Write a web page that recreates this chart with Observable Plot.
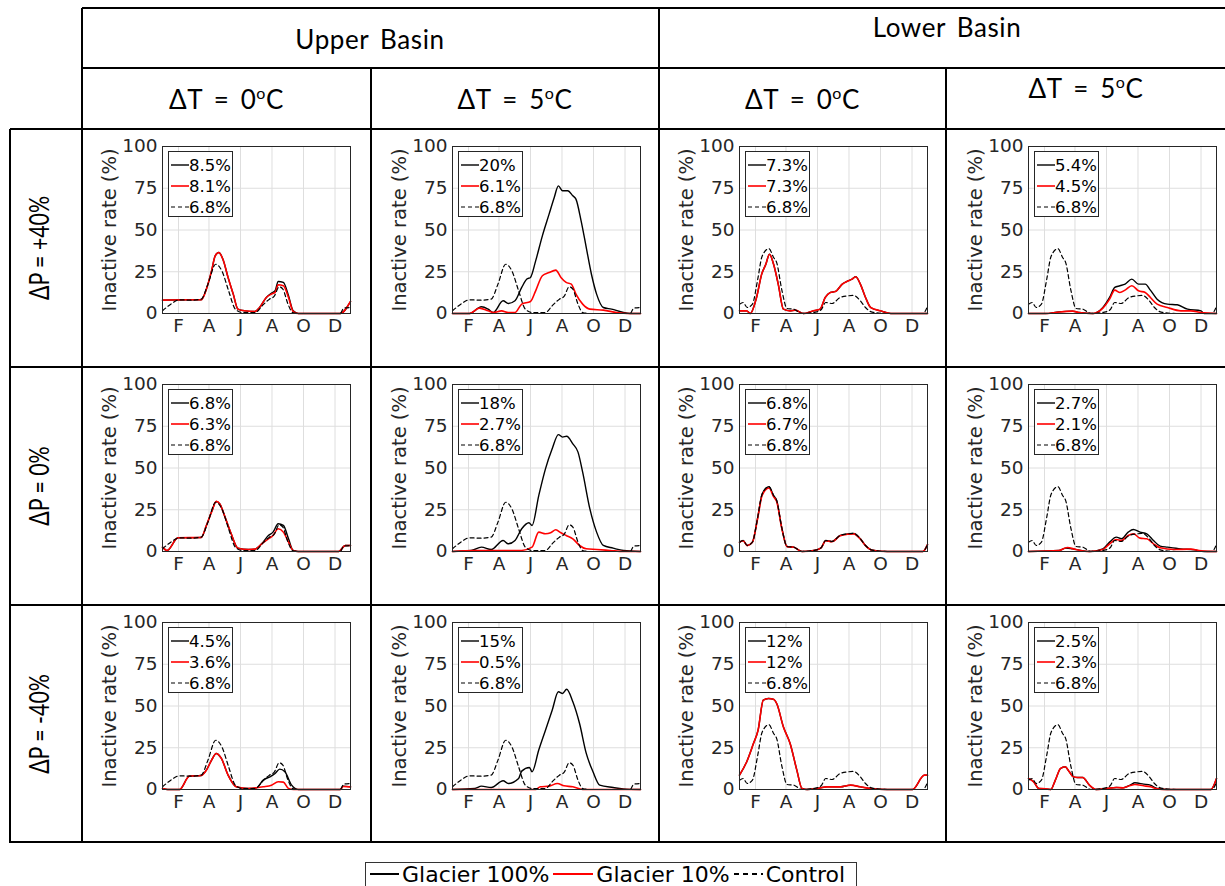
<!DOCTYPE html>
<html><head><meta charset="utf-8">
<script src="https://cdn.jsdelivr.net/npm/d3@7"></script>
<script src="https://cdn.jsdelivr.net/npm/@observablehq/plot@0.6"></script>
<style>
body{margin:0;background:#fff;}
#root{position:relative;width:1225px;height:886px;overflow:hidden;background:#fff;font-family:"DejaVu Sans",sans-serif;}
.hl{position:absolute;height:2px;background:#000;}
.vl{position:absolute;width:2px;background:#000;}
.hdr{position:absolute;font-family:Lato,sans-serif;font-size:26px;letter-spacing:0.6px;word-spacing:4px;color:#000;transform:translate(-50%,-50%);white-space:nowrap;}
.hdr sup{font-size:16px;vertical-align:10px;line-height:0;}
.rowlab{position:absolute;font-family:Lato,sans-serif;font-size:26px;line-height:26px;color:#000;transform:translate(-50%,-50%) rotate(-90deg) scaleX(0.82);white-space:nowrap;}
.panel{position:absolute;}
.leg{position:absolute;border:1px solid #262626;background:#fff;width:65px;height:66px;font-size:16.5px;color:#000;box-sizing:border-box;}
.leg .row{position:absolute;left:1px;height:20px;display:flex;align-items:center;}
.leg svg{display:block;}
#blegend{position:absolute;left:365px;top:862px;width:492px;height:30px;border:1px solid #333;box-sizing:border-box;display:flex;align-items:center;font-size:22px;color:#000;white-space:nowrap;padding-left:3px;padding-bottom:6px;}
#blegend svg{display:block;}
</style></head>
<body><div id="root"></div>
<script>
// ---------- DATA ----------
const monthTicks = [32, 91, 152, 213, 274, 335];
const monthLabels = ["F", "A", "J", "A", "O", "D"];
const yTicks = [0, 25, 50, 75, 100];
const yLabel = "Inactive rate (%)";
const basins = ["Upper Basin", "Lower Basin"];
const dTLabels = ["0", "5", "0", "5"];
const dPLabels = ["ΔP = +40%", "ΔP = 0%", "ΔP = -40%"];
const seriesNames = ["Glacier 100%", "Glacier 10%", "Control"];

const legendVals = [
  ["8.5%", "8.1%", "6.8%"], ["20%", "6.1%", "6.8%"], ["7.3%", "7.3%", "6.8%"], ["5.4%", "4.5%", "6.8%"],
  ["6.8%", "6.3%", "6.8%"], ["18%", "2.7%", "6.8%"], ["6.8%", "6.7%", "6.8%"], ["2.7%", "2.1%", "6.8%"],
  ["4.5%", "3.6%", "6.8%"], ["15%", "0.5%", "6.8%"], ["12%", "12%", "6.8%"], ["2.5%", "2.3%", "6.8%"]
];

// [day of year, inactive rate %]
const upperControl = [[1,1.6],[17,5.6],[34,8.2],[57,8],[76,8.6],[89,17.6],[104,29.5],[116,25.5],[129,13.6],[142,2.6],[155,0.6],[181,0.6],[194,4.6],[208,8.6],[217,10.2],[227,16],[234,14.6],[244,5.6],[253,0.6],[267,0],[345,0],[352,3.2],[365,3.6]];
const lowerControl = [[1,5.6],[8,6.6],[16,3.6],[26,5.6],[36,20],[45,34.5],[58,38.8],[67,33.5],[73,30.5],[83,14],[93,3],[106,2.6],[122,0],[148,0.8],[159,2.2],[168,6.6],[180,6],[196,9.6],[212,10.6],[222,10.8],[235,7.6],[245,3.6],[258,0.8],[287,0],[356,0],[365,4.2]];

const ub0p40_g100 = [[1,8],[50,8.2],[76,8.2],[86,14.6],[96,25.5],[103,34.5],[110,36.5],[118,32.5],[128,21.5],[138,11.6],[147,2.6],[160,1.6],[180,1.2],[189,3.6],[202,9.6],[212,12.2],[219,13.6],[225,19.2],[235,18.6],[245,10.6],[254,1.6],[264,0],[345,0],[365,7.2]];
const ub0p40_g10 = [[1,8],[50,8.2],[76,8.2],[86,14.6],[96,25.5],[103,34.5],[110,36.5],[118,32.5],[128,21.5],[138,11.6],[147,2.6],[160,1.6],[180,1.2],[189,3.6],[202,9.6],[212,11.6],[219,12.6],[225,17.2],[235,16.6],[245,9.6],[254,1.2],[264,0],[345,0],[365,7.2]];
const ub5p40_g100 = [[1,0],[34,0],[57,4],[70,2.6],[80,0.6],[99,7.6],[109,6],[122,7.6],[135,15.6],[145,20.6],[152,21.6],[162,31.5],[175,46.5],[188,59.5],[198,69.5],[206,76.4],[214,73.5],[224,73.5],[234,70.5],[240,68.5],[250,55.5],[260,39.5],[270,23.5],[280,11.6],[293,3.6],[309,2.6],[332,0.6],[345,0],[365,0]];
const ub5p40_g10 = [[1,0],[34,0],[53,3.2],[70,1.6],[80,0.6],[96,1.6],[109,0.6],[122,0.6],[135,5.6],[152,7.2],[162,13.6],[175,22.6],[188,24.5],[201,26],[211,21.6],[221,18.6],[231,17.6],[240,11.6],[253,5.6],[267,2.6],[293,2],[319,0.6],[339,0],[365,0]];
const lb0p40_g100 = [[1,1.6],[15,1.6],[22,0],[34,9.6],[44,23.6],[52,29.5],[59,35.5],[67,29.5],[76,17.6],[86,2.6],[99,1.6],[109,2],[125,0],[144,1.6],[157,2.6],[167,9.6],[177,12.6],[187,13.2],[200,17.6],[209,19.2],[219,20.6],[226,22],[235,17.6],[245,9.6],[255,3.6],[274,1.6],[294,0],[365,0]];
const lb0p40_g10 = lb0p40_g100.map(d => d.slice());
const lb5p40_g100 = [[1,0],[34,0],[60,1],[86,1.4],[99,0.6],[126,0],[145,3.6],[158,9.6],[168,15.6],[178,16.6],[188,17.6],[201,20.6],[214,17.6],[227,17.6],[237,14],[250,8.6],[270,5.6],[289,5.2],[309,2.6],[335,1.6],[341,0],[365,0]];
const lb5p40_g10 = [[1,0],[34,0],[53,0.6],[86,1.4],[99,0.6],[126,0],[145,3.2],[158,8.6],[168,14],[178,12.6],[188,14],[201,16.6],[214,13.6],[227,12.6],[237,9.6],[250,5.6],[270,3.6],[296,1.6],[315,1.6],[335,0.6],[365,0]];

const ub0p0_g100 = [[1,2.6],[10,0.6],[31,8.2],[76,8.4],[86,15.6],[97,24.5],[105,30],[112,28.5],[121,21.5],[134,10.6],[147,2],[167,1.2],[180,1.4],[193,4.6],[206,9.6],[215,11.6],[225,16.6],[235,15.6],[245,7.6],[254,0.6],[264,0],[342,0],[355,3.6],[365,3.6]];
const ub0p0_g10 = [[1,2.6],[10,0.6],[31,8.2],[76,8.4],[86,15.6],[97,24.5],[105,30],[112,28.5],[121,21.5],[134,10.6],[147,2],[167,1.2],[180,1.4],[193,4.6],[206,7.6],[215,9.6],[225,13.6],[235,11.6],[245,5.6],[254,0.6],[264,0],[342,0],[355,3.6],[365,3.6]];
const ub5p0_g100 = [[1,0],[37,0.6],[57,2.6],[76,1.2],[99,6.6],[109,4.6],[122,6.6],[135,13.6],[149,17.2],[155,15.6],[168,33.5],[181,49.5],[194,61.5],[206,70],[214,68.5],[222,69],[234,64.5],[244,59.5],[253,47.5],[267,25.5],[280,11.6],[293,3.6],[312,2],[332,0.6],[365,0]];
const ub5p0_g10 = [[1,0],[44,0.6],[70,0.6],[135,0.6],[155,2.6],[168,11.6],[181,10.6],[191,11.2],[201,13],[211,11.2],[221,9.6],[234,7.6],[247,3.6],[260,1.6],[280,1.2],[306,0.6],[332,0],[365,0]];
const lb0p0_g100 = lowerControl.map(d => d.slice());
const lb0p0_g10 = lowerControl.map(d => [d[0], d[1] * 0.98]);
const lb5p0_g100 = [[1,0],[60,0.6],[73,2],[86,1.6],[119,0],[145,1.6],[158,5.6],[171,8.6],[181,7.6],[194,11.6],[204,13.2],[217,11.6],[230,10.6],[243,6.6],[256,3.2],[270,2.6],[296,1.6],[322,1],[341,0],[365,0]];
const lb5p0_g10 = [[1,0],[60,0.6],[76,2.4],[93,1.2],[119,0],[145,1.2],[158,4.6],[171,7.2],[181,6.6],[194,9.6],[204,10.6],[217,8],[230,7.6],[243,4.6],[256,2.2],[283,1.2],[315,1.4],[335,0.4],[365,0]];

const ub0m40_g100 = [[1,0.6],[11,0],[34,0],[53,8],[76,8.4],[86,11.6],[96,17.6],[105,21.6],[115,18.6],[128,8.6],[144,1.6],[167,0.6],[183,1],[196,5.6],[209,7.6],[219,9.6],[228,12.2],[238,10.6],[251,2.6],[264,0],[345,0],[351,2],[365,1.6]];
const ub0m40_g10 = [[1,0.6],[11,0],[34,0],[53,8],[76,8.4],[86,11.6],[96,17.6],[105,21.6],[115,18.6],[128,8.6],[144,1.6],[167,0.6],[183,1],[196,1.6],[212,2.6],[225,4.6],[235,4.4],[245,0.6],[255,0],[345,0],[351,1.8],[365,1.6]];
const ub5m40_g100 = [[1,0],[44,0.6],[57,2],[76,1.2],[99,5.2],[109,3.6],[129,6.6],[135,11],[150,13.2],[155,10.6],[168,23.6],[181,35.5],[194,47.5],[206,58.5],[214,57.5],[222,60],[234,52.5],[247,39.5],[260,21.6],[273,10.6],[286,2.6],[312,1.2],[332,0.4],[365,0]];
const ub5m40_g10 = [[1,0],[162,0],[171,1.6],[188,2],[204,3.6],[217,2.2],[234,1.6],[253,0],[365,0]];
const lb0m40_g100 = [[1,8.6],[15,16.6],[28,27.5],[37,35.5],[47,53.5],[57,54.5],[67,54],[73,51.5],[86,37.5],[99,27.5],[112,11.6],[122,0.6],[132,0],[151,0.6],[170,1.6],[196,1.6],[216,2.6],[235,1.6],[255,0.6],[287,0],[336,0],[359,8.6],[365,8.6]];
const lb0m40_g10 = lb0m40_g100.map(d => d.slice());
const lb5m40_g100 = [[1,6.6],[11,4.6],[21,0.6],[34,0.4],[44,0],[53,5.6],[63,12.6],[72,13.6],[80,10.6],[88,7.6],[96,7.2],[106,7.2],[119,2.6],[132,0],[152,0.6],[171,1.2],[184,1],[198,2.6],[207,4],[224,3.2],[237,2.6],[250,0.6],[270,0],[354,0],[365,6.6]];
const lb5m40_g10 = [[1,6.6],[11,4.6],[21,0.6],[34,0.4],[44,0],[53,5.6],[63,12.6],[72,13.6],[80,10.6],[88,7.6],[96,7.2],[106,7.2],[119,2.6],[132,0],[152,0.6],[171,1.2],[184,1],[198,2.4],[207,3],[224,2.2],[237,1.6],[250,0.4],[270,0],[354,0],[365,6.6]];

const panelSeries = [
  [ub0p40_g100, ub0p40_g10, upperControl], [ub5p40_g100, ub5p40_g10, upperControl], [lb0p40_g100, lb0p40_g10, lowerControl], [lb5p40_g100, lb5p40_g10, lowerControl],
  [ub0p0_g100, ub0p0_g10, upperControl], [ub5p0_g100, ub5p0_g10, upperControl], [lb0p0_g100, lb0p0_g10, lowerControl], [lb5p0_g100, lb5p0_g10, lowerControl],
  [ub0m40_g100, ub0m40_g10, upperControl], [ub5m40_g100, ub5m40_g10, upperControl], [lb0m40_g100, lb0m40_g10, lowerControl], [lb5m40_g100, lb5m40_g10, lowerControl]
];

// ---------- LAYOUT ----------
const root = document.getElementById("root");
const colX = [82, 371, 659, 946];
const colW = [289, 288, 287, 279];
const rowY = [129, 367, 605];
const colML = [80, 81, 80, 82];
const plotW = 188, plotH = 167, mTop = 17;
const lineStyles = [
  {stroke: "#000", strokeWidth: 1.4},
  {stroke: "#ff0000", strokeWidth: 1.6},
  {stroke: "#000", strokeWidth: 1.2, strokeDasharray: "4,3"}
];

function el(tag, cls, style, html) {
  const e = document.createElement(tag);
  if (cls) e.className = cls;
  Object.assign(e.style, style || {});
  if (html != null) e.innerHTML = html;
  root.appendChild(e);
  return e;
}
function hl(x, y, w) { el("div", "hl", {left: x + "px", top: (y - 1) + "px", width: w + "px"}); }
function vl(x, y, h) { el("div", "vl", {left: (x - 1) + "px", top: y + "px", height: h + "px"}); }

// panels
panelSeries.forEach((ser, i) => {
  const r = Math.floor(i / 4), c = i % 4;
  const ml = colML[c];
  const W = colW[c], H = 237;
  const chart = Plot.plot({
    width: W, height: H,
    marginLeft: ml, marginRight: W - ml - plotW, marginTop: mTop, marginBottom: H - mTop - plotH,
    style: {fontFamily: "DejaVu Sans, sans-serif", fontSize: "18.5px", color: "#262626", background: "transparent", overflow: "visible"},
    x: {domain: [1, 365]},
    y: {domain: [0, 100]},
    marks: [
      Plot.gridX(monthTicks, {stroke: "#dedede", strokeOpacity: 1}),
      Plot.gridY(yTicks, {stroke: "#dedede", strokeOpacity: 1}),
      Plot.axisX(monthTicks, {tickSize: 0, tickPadding: 5, tickFormat: d => monthLabels[monthTicks.indexOf(d)], label: null}),
      Plot.axisY(yTicks, {tickSize: 0, tickPadding: 5, label: null}),
      Plot.text([yLabel], {frameAnchor: "left", textAnchor: "middle", rotate: -90, dx: -53, fontSize: 19.5, fill: "#262626"}),
      ...ser.map((s, k) => Plot.line(s, {x: d => d[0], y: d => d[1], curve: "monotone-x", ...lineStyles[k]})),
      Plot.frame({stroke: "#262626", strokeWidth: 1})
    ]
  });
  const div = el("div", "panel", {left: colX[c] + "px", top: rowY[r] + "px", width: W + "px", height: H + "px"});
  div.appendChild(chart);
  // in-panel legend
  const leg = document.createElement("div");
  leg.className = "leg";
  leg.style.left = (ml + 6) + "px";
  leg.style.top = (mTop + 5) + "px";
  legendVals[i].forEach((t, k) => {
    const row = document.createElement("div");
    row.className = "row";
    row.style.top = (3 + k * 21) + "px";
    const ls = lineStyles[k];
    row.innerHTML = `<svg width="19" height="10"><line x1="1" x2="19" y1="5" y2="5" stroke="${ls.stroke}" stroke-width="${ls.strokeWidth}" ${ls.strokeDasharray ? `stroke-dasharray="${ls.strokeDasharray}"` : ""}/></svg><span>${t}</span>`;
    leg.appendChild(row);
  });
  div.appendChild(leg);
});

// table lines
hl(82, 8, 1143);
hl(82, 68, 1143);
hl(10, 129, 1215);
hl(10, 367, 1215);
hl(10, 605, 1215);
hl(10, 842, 1215);
vl(10, 129, 714);
vl(82, 8, 835);
vl(371, 68, 775);
vl(659, 8, 835);
vl(946, 68, 775);

// headers
el("div", "hdr", {left: "370px", top: "39px"}, basins[0]);
el("div", "hdr", {left: "947px", top: "27px"}, basins[1]);
const dtY = [99, 99, 99, 88];
dTLabels.forEach((t, c) => {
  el("div", "hdr", {left: (colX[c] + (c === 3 ? 140 : colW[c] / 2)) + "px", top: dtY[c] + "px"}, `ΔT = ${t}<sup>o</sup>C`);
});
dPLabels.forEach((t, r) => {
  el("div", "rowlab", {left: "39px", top: (rowY[r] + 119) + "px"}, t);
});

// bottom legend
const bl = el("div", "", {}, "");
bl.id = "blegend";
bl.innerHTML = seriesNames.map((n, k) => {
  const ls = lineStyles[k];
  const w = k === 1 ? 42 : 31;
  return `<svg width="${w}" height="12"><line x1="1" x2="${w - 1}" y1="6" y2="6" stroke="${ls.stroke}" stroke-width="${ls.strokeWidth + 0.6}" ${ls.strokeDasharray ? `stroke-dasharray="5,4"` : ""}/></svg><span style="margin-left:2px;margin-right:3px">${n}</span>`;
}).join("");
</script>
</body></html>
